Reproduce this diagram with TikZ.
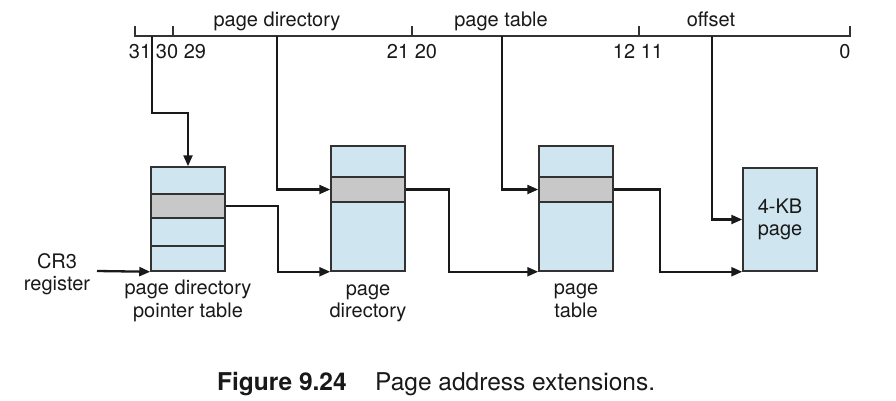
\documentclass[tikz,border=0pt]{standalone}
\usepackage{fontspec}
\setmainfont{TeX Gyre Heros}
\usepackage{tikz}
\usetikzlibrary{arrows.meta}
\usetikzlibrary{calc}
\definecolor{tblblue}{RGB}{207,229,239}
\definecolor{rowgray}{RGB}{200,200,200}
\definecolor{edgegray}{RGB}{50,50,50}
\tikzset{
    tbl/.style={draw=edgegray, line width=1.5pt, fill=tblblue, minimum width=74pt, inner sep=0pt},
    row/.style={draw=edgegray, line width=1.5pt, fill=rowgray, minimum width=74pt, inner sep=0pt},
    lnk/.style={line width=2.3pt, draw=black!90, -{Triangle[length=11pt,width=9pt]}},
    lbl/.style={align=center, text=black!90, font=\fontsize{20}{22.5}\selectfont}
}

\begin{document}
\begin{tikzpicture}[x=1pt,y=-1pt]
\useasboundingbox (0,0) rectangle (896,400);
% address bits
\foreach \x/\p in {135/b31, 152/bPdpt, 173/b30, 277/bDir, 412/b21, 502/bTbl, 639/b12, 712/bOff, 850/b0}{
\coordinate (\p) at (\x,36);
}
\draw[line width=1.4pt, draw=black!80] ($(b31)+(0,-10)$) -- (b31) -- (b0) -- ++(0,-10);
\foreach \p in {b30,b21,b12}{
\draw[line width=1.4pt, draw=black!80] (\p) -- ++(0,-10);
}
\foreach \x/\p/\labeltext in {277/fDir/{page directory}, 501/fTbl/{page table}, 711/fOff/{offset}}{
\node[lbl, anchor=base] (\p) at (\x,26) {\labeltext};
}
\foreach \x/\p/\labeltext in {140/n31/{31}, 181/n30/{30 29}, 412/n21/{21 20}, 638/n12/{12 11}, 845/n0/{0}}{
\node[lbl, anchor=base] (\p) at (\x,58) {\labeltext};
}
% tables
\node[tbl, minimum height=104pt] (pdpt) at (188,219) {};
\node[row, minimum height=24pt] (pdptRow) at (188,206) {};
\draw[draw=edgegray, line width=1.5pt] ($(pdpt.south west)+(0,-26)$) -- ($(pdpt.south east)+(0,-26)$);
\node[tbl, minimum height=125pt] (dir) at (368,208.5) {};
\node[row, minimum height=25pt] (dirRow) at (368,189.5) {};
\node[tbl, minimum height=125pt] (tbl) at (576,208.5) {};
\node[row, minimum height=25pt] (tblRow) at (576,189.5) {};
\node[tbl, lbl, minimum height=103pt] (pg) at (780,219.5) {4-KB\\page};
% links
\draw[lnk] (bPdpt) -- ++(0,77) -| (pdpt.north);
\draw[lnk] (bDir) |- (dirRow.west);
\draw[lnk] (bTbl) |- (tblRow.west);
\draw[lnk] (bOff) |- (pg.west);
\draw[lnk] (pdptRow.east) -- ++(52,0) |- (dir.south west);
\draw[lnk] (dirRow.east) -- ++(43,0) |- (tbl.south west);
\draw[lnk] (tblRow.east) -- ++(46,0) |- (pg.south west);
\node[lbl] (cr3) at (57,274) {CR3\\register};
\coordinate (cr3In) at (97,271);
\draw[lnk] (cr3In) -- (pdpt.south west);
\node[lbl] (pdptName) at (188,301) {page directory\\pointer table};
\node[lbl] (dirName) at (368,303.5) {page\\directory};
\node[lbl] (tblName) at (576,301) {page\\table};
% caption
\node[anchor=base west, inner sep=0pt, text=black!90, font=\fontsize{24.5}{29}\selectfont\bfseries] (figNo) at (217,390) {Figure 9.24};
\node[anchor=base west, inner sep=0pt, text=black!90, font=\fontsize{24.5}{29}\selectfont] (figText) at (375,390) {Page address extensions.};
\end{tikzpicture}
\end{document}
